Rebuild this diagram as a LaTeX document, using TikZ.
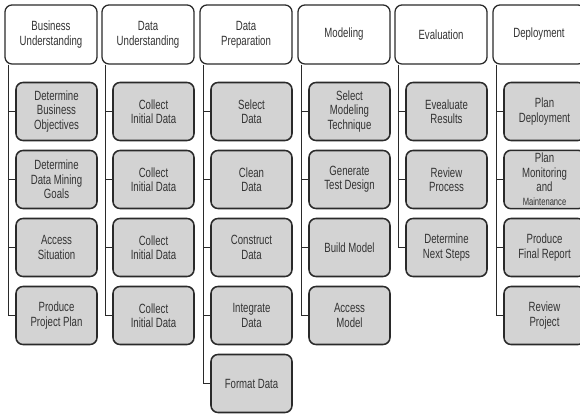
\documentclass[tikz,border=0pt]{standalone}
\usepackage{fontspec}
\setmainfont{Liberation Sans}[FakeStretch=0.72]
\usetikzlibrary{positioning, calc}
\definecolor{boxgrey}{HTML}{D3D3D3}
\definecolor{inkgrey}{HTML}{2A2A2A}
\definecolor{textgrey}{HTML}{333333}

\begin{document}
\begin{tikzpicture}[
  x=0.025cm, y=-0.025cm,
  phase/.style={
    rectangle, rounded corners=5pt,
    draw=inkgrey, line width=0.9pt, fill=white,
    text=textgrey, font=\fontsize{9.5}{10.6}\selectfont,
    minimum width=2.3cm, minimum height=1.475cm,
    align=center, inner sep=2pt
  },
  task/.style={
    rectangle, rounded corners=5pt,
    draw=inkgrey, line width=1.1pt, fill=boxgrey,
    text=textgrey, font=\fontsize{9.5}{10.2}\selectfont,
    minimum width=2.025cm, minimum height=1.45cm,
    align=center, inner sep=2pt
  },
  link/.style={draw=inkgrey, line width=0.8pt}
]

%% page 580 x 418 (1 unit = 1 px), right column runs off the edge
\clip (0,0) rectangle (580,418);
\useasboundingbox (0,0) rectangle (580,418);

%% column lefts: 5, 102, 200, 298, 395, 493
%% rows: header 34.5, tasks 111.5, 179.5, 247.5, 315.5, 383.5

%% --- BUSINESS UNDERSTANDING ---
\node[phase] (bu) at (51, 34.5) {Business\\Understanding};
\node[task] (bu1) at (56.5, 111.5) {Determine\\Business\\Objectives};
\node[task] (bu2) at (56.5, 179.5) {Determine\\Data Mining\\Goals};
\node[task] (bu3) at (56.5, 247.5) {Access\\Situation};
\node[task] (bu4) at (56.5, 315.5) {Produce\\Project Plan};

\draw[link] ([xshift=0.1cm]bu.south west) |- (bu4.west);
\draw[link] (bu1.west) -- ++(-7,0);
\draw[link] (bu2.west) -- ++(-7,0);
\draw[link] (bu3.west) -- ++(-7,0);

%% --- DATA UNDERSTANDING ---
\node[phase] (du) at (148, 34.5) {Data\\Understanding};
\node[task] (du1) at (153.5, 111.5) {Collect\\Initial Data};
\node[task] (du2) at (153.5, 179.5) {Collect\\Initial Data};
\node[task] (du3) at (153.5, 247.5) {Collect\\Initial Data};
\node[task] (du4) at (153.5, 315.5) {Collect\\Initial Data};

\draw[link] ([xshift=0.1cm]du.south west) |- (du4.west);
\draw[link] (du1.west) -- ++(-7,0);
\draw[link] (du2.west) -- ++(-7,0);
\draw[link] (du3.west) -- ++(-7,0);

%% --- DATA PREPARATION ---
\node[phase] (dp) at (246, 34.5) {Data\\Preparation};
\node[task] (dp1) at (251.5, 111.5) {Select\\Data};
\node[task] (dp2) at (251.5, 179.5) {Clean\\Data};
\node[task] (dp3) at (251.5, 247.5) {Construct\\Data};
\node[task] (dp4) at (251.5, 315.5) {Integrate\\Data};
\node[task] (dp5) at (251.5, 383.5) {Format Data};

\draw[link] ([xshift=0.1cm]dp.south west) |- (dp5.west);
\draw[link] (dp1.west) -- ++(-7,0);
\draw[link] (dp2.west) -- ++(-7,0);
\draw[link] (dp3.west) -- ++(-7,0);
\draw[link] (dp4.west) -- ++(-7,0);

%% --- MODELING ---
\node[phase] (mo) at (344, 34.5) {Modeling};
\node[task] (mo1) at (349.5, 111.5) {Select\\Modeling\\Technique};
\node[task] (mo2) at (349.5, 179.5) {Generate\\Test Design};
\node[task] (mo3) at (349.5, 247.5) {Build Model};
\node[task] (mo4) at (349.5, 315.5) {Access\\Model};

\draw[link] ([xshift=0.1cm]mo.south west) |- (mo4.west);
\draw[link] (mo1.west) -- ++(-7,0);
\draw[link] (mo2.west) -- ++(-7,0);
\draw[link] (mo3.west) -- ++(-7,0);

%% --- EVALUATION ---
\node[phase] (ev) at (441, 34.5) {Evaluation};
\node[task] (ev1) at (446.5, 111.5) {Evealuate\\Results};
\node[task] (ev2) at (446.5, 179.5) {Review\\Process};
\node[task] (ev3) at (446.5, 247.5) {Determine\\Next Steps};

\draw[link] ([xshift=0.1cm]ev.south west) |- (ev3.west);
\draw[link] (ev1.west) -- ++(-7,0);
\draw[link] (ev2.west) -- ++(-7,0);

%% --- DEPLOYMENT ---
\node[phase] (de) at (539, 34.5) {Deployment};
\node[task] (de1) at (544.5, 111.5) {Plan\\Deployment};
\node[task] (de2) at (544.5, 179.5)
  {Plan\\Monitoring\\and\\{\fontsize{7.5}{9}\selectfont Maintenance}};
\node[task] (de3) at (544.5, 247.5) {Produce\\Final Report};
\node[task] (de4) at (544.5, 315.5) {Review\\Project};

\draw[link] ([xshift=0.1cm]de.south west) |- (de4.west);
\draw[link] (de1.west) -- ++(-7,0);
\draw[link] (de2.west) -- ++(-7,0);
\draw[link] (de3.west) -- ++(-7,0);

\end{tikzpicture}
\end{document}
